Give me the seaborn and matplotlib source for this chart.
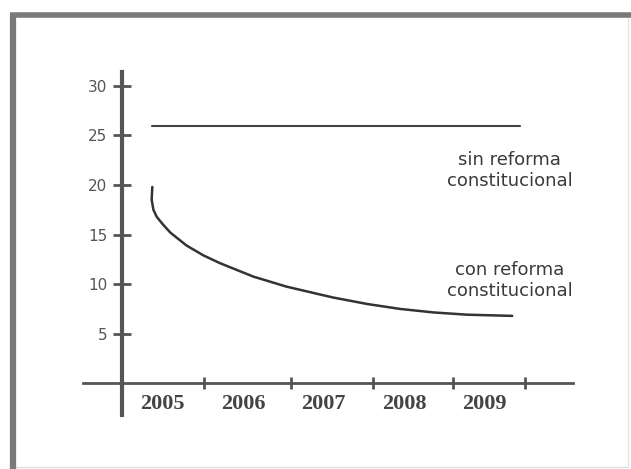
"""
Evolución con y sin reforma constitucional (2005-2009)
"""
import numpy as np
import pandas as pd
import matplotlib.pyplot as plt
import seaborn as sns
from matplotlib.lines import Line2D

# ========== datos ==========
years = [2005, 2006, 2007, 2008, 2009]
year_bounds = [2005.52, 2006.60, 2007.61, 2008.60, 2009.50]   # marcas entre años
y_ticks = [5, 10, 15, 20, 25, 30]

sin_x = [2004.87, 2009.44]
sin_y = [26.0, 26.0]

con_x = [2004.876, 2004.868, 2004.89, 2004.93, 2005.01, 2005.10, 2005.30, 2005.51,
         2005.72, 2006.13, 2006.54, 2006.96, 2007.12, 2007.54, 2007.95, 2008.36,
         2008.78, 2009.34]
con_y = [19.8, 18.5, 17.5, 16.8, 16.0, 15.2, 13.9, 12.9,
         12.1, 10.76, 9.75, 8.95, 8.65, 8.0, 7.5, 7.15,
         6.92, 6.8]

df = pd.concat([
    pd.DataFrame({'anio': sin_x, 'valor': sin_y, 'serie': 'sin reforma'}),
    pd.DataFrame({'anio': con_x, 'valor': con_y, 'serie': 'con reforma'}),
], ignore_index=True)

# ========== figura ==========
sns.set_theme(style='white')
plt.rcParams['font.family'] = ['DejaVu Sans']

fig = plt.figure(figsize=(6.31, 4.69), dpi=100)
ax = fig.add_axes([0.132, 0.1151, 0.7756, 0.7314])

sns.lineplot(data=df[df['serie'] == 'sin reforma'], x='anio', y='valor',
             color='#444444', linewidth=1.5, ax=ax, sort=False)
sns.lineplot(data=df[df['serie'] == 'con reforma'], x='anio', y='valor',
             color='#333333', linewidth=1.8, ax=ax, sort=False)

ax.set_xlim(2004.02, 2010.09)
ax.set_ylim(-3.2, 31.4)
ax.set_xlabel('')
ax.set_ylabel('')

# ejes en cruz
for s in ['top', 'right']:
    ax.spines[s].set_visible(False)
ax.spines['left'].set_position(('data', 2004.5))
ax.spines['bottom'].set_position(('data', 0))
ax.spines['left'].set_color('#555555')
ax.spines['left'].set_linewidth(3)
ax.spines['bottom'].set_color('#555555')
ax.spines['bottom'].set_linewidth(2)

# ticks eje y
ax.set_yticks(y_ticks)
ax.set_yticklabels([str(v) for v in y_ticks], fontsize=11, color='#555555')
ax.tick_params(axis='y', which='major', direction='inout', length=13, width=2,
               color='#555555', pad=4, left=True)

# ticks eje x: marcas entre años, etiquetas centradas
ax.set_xticks(year_bounds)
ax.set_xticklabels([''] * len(year_bounds))
ax.set_xticks(years, minor=True)
ax.set_xticklabels([str(y) for y in years], minor=True,
                   fontfamily='Liberation Serif', fontweight='bold',
                   fontsize=16, color='#444444')
ax.tick_params(axis='x', which='major', direction='inout', length=9, width=2,
               color='#555555', bottom=True)
ax.tick_params(axis='x', which='minor', length=0, pad=8, bottom=True)

# textos de las series
ax.text(2009.31, 21.5, 'sin reforma\nconstitucional', ha='center', va='center',
        fontsize=13, color='#3a3a3a', linespacing=1.2)
ax.text(2009.31, 10.4, 'con reforma\nconstitucional', ha='center', va='center',
        fontsize=13, color='#3a3a3a', linespacing=1.2)

# marco exterior
W, H = 631, 469
def fx(px):
    return px / W
def fy(py):
    return 1 - py / H
fig.add_artist(Line2D([fx(12), fx(628)], [fy(467), fy(467)], color='#dddddd', linewidth=1))
fig.add_artist(Line2D([fx(628), fx(628)], [fy(15), fy(467)], color='#e5e5e5', linewidth=1))
fig.add_artist(Line2D([fx(13), fx(13)], [fy(13), fy(469)], color='#7a7a7a',
                      linewidth=4.5, solid_capstyle='butt'))
fig.add_artist(Line2D([fx(10), fx(631)], [fy(15), fy(15)], color='#7a7a7a',
                      linewidth=4, solid_capstyle='butt'))

plt.savefig('out.png', dpi=100)
